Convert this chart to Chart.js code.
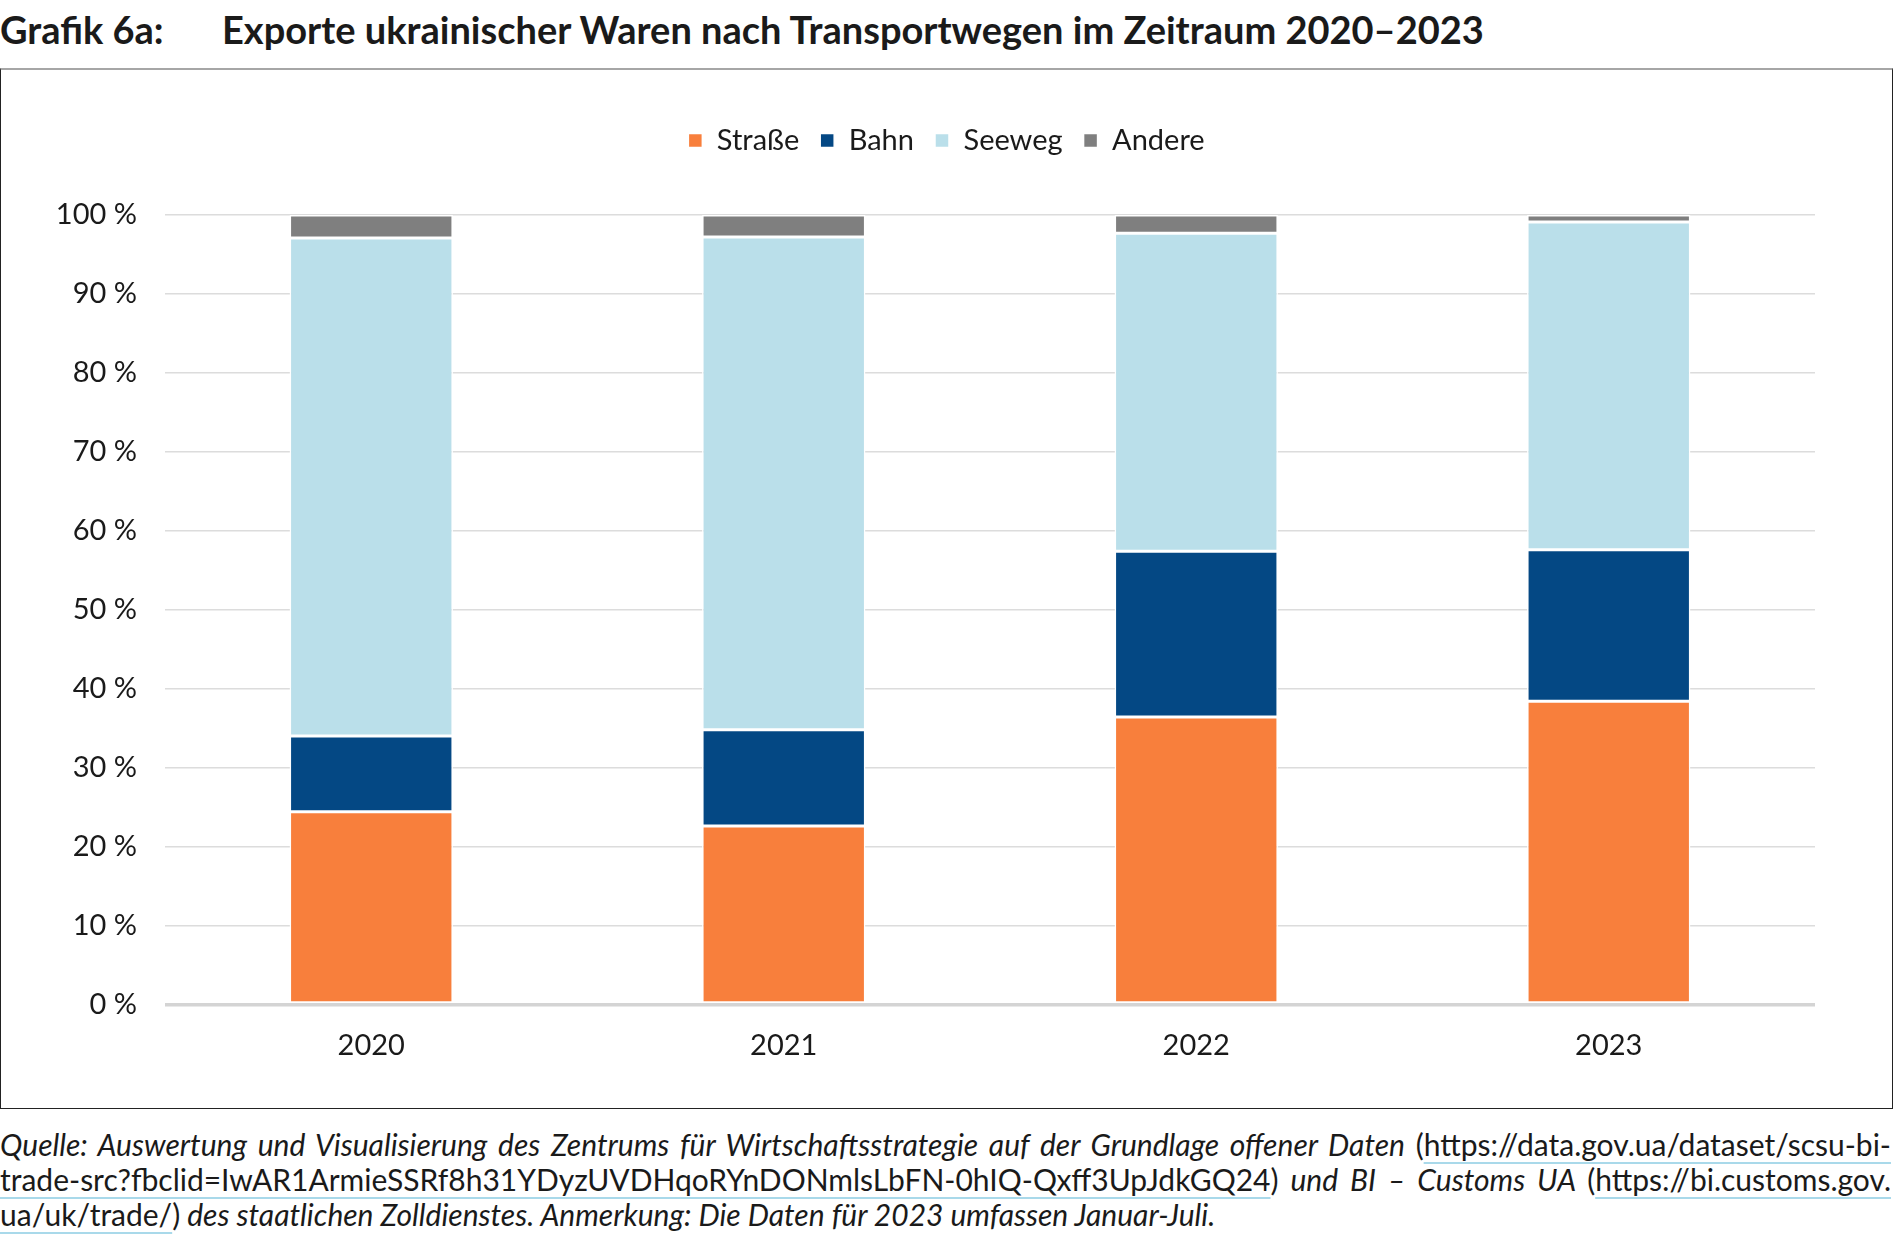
<!DOCTYPE html>
<html>
<head>
<meta charset="utf-8">
<script src="https://cdn.jsdelivr.net/npm/chart.js@4"></script>
<style>
  body { margin: 0; background: #fff; font-family: Lato, sans-serif; color: #1a1a1a; }
  #title { position: absolute; left: 0; top: 6px; font-size: 38px; font-weight: bold; white-space: nowrap; }
  #title .main { position: absolute; left: 222px; top: 0; }
  #box { position: absolute; left: 0; top: 68px; width: 1891px; height: 1038px; border: 1px solid #222; border-top: 2px solid #a6a6a6; }
  #note { position: absolute; left: 0; top: 1127px; width: 1891px; font-size: 30px; line-height: 35px; font-style: italic; }
  #note div { text-align: justify; text-align-last: justify; white-space: nowrap; }
  #note div.last { text-align-last: left; }
  .u { font-style: normal; text-decoration: underline; text-decoration-color: #a9d9ea; text-decoration-thickness: 2px; text-underline-offset: 6px; }
</style>
</head>
<body>
<div id="title">Grafik 6a:<span class="main">Exporte ukrainischer Waren nach Transportwegen im Zeitraum 2020–2023</span></div>
<div id="box"><canvas id="chart" width="1891" height="1038"></canvas></div>
<div id="note">
  <div>Quelle: Auswertung und Visualisierung des Zentrums für Wirtschaftsstrategie auf der Grundlage offener Daten <span style="font-style:normal">(</span><span class="u">https://data.gov.ua/dataset/scsu-bi-</span></div>
  <div><span class="u">trade-src?fbclid=IwAR1ArmieSSRf8h31YDyzUVDHqoRYnDONmlsLbFN-0hIQ-Qxff3UpJdkGQ24</span><span style="font-style:normal">)</span> und BI – Customs UA <span style="font-style:normal">(</span><span class="u">https://bi.customs.gov.</span></div>
  <div class="last"><span class="u">ua/uk/trade/</span><span style="font-style:normal">)</span> des staatlichen Zolldienstes. Anmerkung: Die Daten für 2023 umfassen Januar-Juli.</div>
</div>
<script>
const years = ['2020', '2021', '2022', '2023'];
const strasse = [24.4, 22.6, 36.4, 38.4];
const bahn = [9.6, 12.2, 21.0, 19.2];
const seeweg = [63.1, 62.4, 40.3, 41.5];
const andere = [2.9, 2.8, 2.3, 0.9];

const seriesNames = ['Straße', 'Bahn', 'Seeweg', 'Andere'];
const seriesColors = ['#f87f3c', '#044884', '#badfea', '#7f7f7f'];
const seriesData = [strasse, bahn, seeweg, andere];

// extra room between legend and plot area
const legendGap = {
    id: 'legendGap',
    afterInit(chart) {
        const lg = chart.legend;
        const fit = lg.fit;
        lg.fit = function () {
            fit.call(this);
            this.height += 50;
        };
    }
};

const ctx = document.getElementById('chart').getContext('2d');
const chart = new Chart(ctx, {
    type: 'bar',
    data: {
        labels: years,
        datasets: seriesData.map((d, i) => ({
            label: seriesNames[i],
            data: d,
            backgroundColor: seriesColors[i],
            borderColor: '#ffffff',
            borderWidth: 1.5,
            borderSkipped: false,
            categoryPercentage: 1,
            barPercentage: 0.396
        }))
    },
    options: {
        responsive: false,
        animation: false,
        layout: { padding: { top: 35, right: 0, left: 0, bottom: 0 } },
        plugins: {
            legend: {
                position: 'top',
                labels: {
                    font: { family: 'Lato', size: 29 },
                    color: '#1a1a1a',
                    boxWidth: 14,
                    boxHeight: 14,
                    padding: 21
                }
            },
            tooltip: { enabled: false }
        },
        scales: {
            x: {
                stacked: true,
                grid: { display: false },
                border: { display: false },
                ticks: { font: { family: 'Lato', size: 29 }, color: '#1a1a1a', padding: 16 },
                afterFit: (scale) => { scale.height = 103.5; }
            },
            y: {
                stacked: true,
                min: 0,
                max: 100,
                border: { display: false },
                grid: {
                    drawTicks: false,
                    color: (c) => c.tick && c.tick.value === 0 ? '#d4d4d4' : '#dcdcdc',
                    lineWidth: (c) => c.tick && c.tick.value === 0 ? 3.5 : 1.5
                },
                ticks: {
                    stepSize: 10,
                    font: { family: 'Lato', size: 29 },
                    color: '#1a1a1a',
                    padding: 28,
                    callback: (v) => v + ' %'
                },
                afterFit: (scale) => { scale.width = 164; }
            },
            // empty right axis, only keeps the right margin so the legend stays centred on the box
            yRight: {
                position: 'right',
                grid: { display: false },
                border: { display: false },
                ticks: { display: false },
                afterFit: (scale) => { scale.width = 77; }
            }
        }
    },
    plugins: [legendGap]
});
</script>
</body>
</html>
